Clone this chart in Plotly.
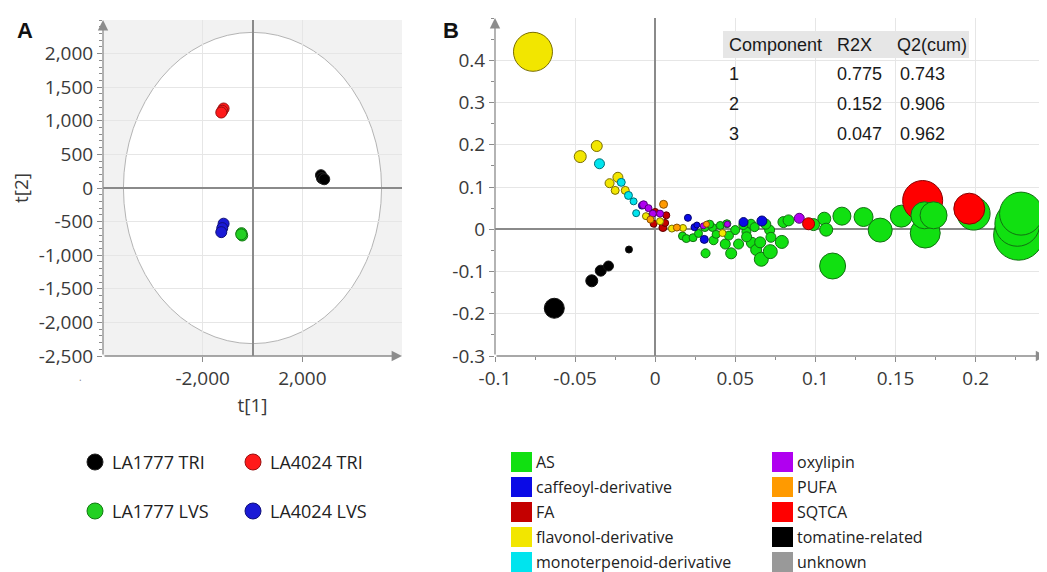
import plotly.graph_objects as go

# The page body has an 8px margin, so the figure is sized to fit the window and
# reference pixel positions are shifted by that offset.
OFF = 8
W, H = 1047 - OFF, 572 - OFF

# ---------------- Panel A: score plot t[1] vs t[2] ----------------
tri1777_t1 = [2747, 2787, 2880]
tri1777_t2 = [191, 146, 130]
tri4024_t1 = [-1160, -1210, -1253]
tri4024_t2 = [1183, 1150, 1123]
lvs1777_t1 = [-440, -413, -453]
lvs1777_t2 = [-672, -707, -690]
lvs4024_t1 = [-1160, -1213, -1253]
lvs4024_t2 = [-531, -597, -657]
a_groups = ["LA1777 TRI", "LA4024 TRI", "LA1777 LVS", "LA4024 LVS"]
a_fill = ["#000000", "#ff1a1a", "#22d022", "#1a1ad6"]
a_edge = ["#222222", "#9a1010", "#137a13", "#10107a"]
a_yticks = [2000, 1500, 1000, 500, 0, -500, -1000, -1500, -2000, -2500]
a_ytext = ["2,000", "1,500", "1,000", "500", "0", "-500", "-1,000", "-1,500", "-2,000", "-2,500"]
a_xticks = [-2000, 2000]
a_xtext = ["-2,000", "2,000"]
ellipse_t1 = 5180   # Hotelling T2 semi-axis
ellipse_t2 = 2316

# ---------------- Panel B: loadings p[1] vs p[2] by class ----------------
as_x = [0.1107, 0.1165, 0.130, 0.1404, 0.1536, 0.1685, 0.1987, 0.2268, 0.226, 0.2283,
        0.1055, 0.1067, 0.0988, 0.080, 0.0832,
        0.017, 0.0194, 0.0236, 0.027, 0.0314, 0.031, 0.0358, 0.0364, 0.0406, 0.0437,
        0.0447, 0.0474, 0.0499, 0.052, 0.0569, 0.0598, 0.0603, 0.063, 0.0662, 0.0655,
        0.0714, 0.0722, 0.0718, 0.079, 0.034, 0.038, 0.055, 0.062, 0.046, 0.069, 0.057]
as_y = [-0.087, 0.031, 0.029, -0.002, 0.031, -0.009, 0.037, -0.014, 0.013, 0.037,
        0.025, -0.001, 0.011, 0.017, 0.021,
        -0.016, -0.022, -0.020, -0.010, -0.057, 0.004, 0.004, -0.026, 0.009, -0.035,
        0.013, -0.057, -0.002, -0.035, -0.006, 0.013, -0.032, -0.049, -0.071, -0.031,
        -0.002, -0.019, -0.053, -0.030, 0.012, -0.012, 0.010, 0.005, -0.015, 0.012, -0.018]
as_s = [26, 18, 19, 24, 22, 30, 33, 50, 45, 43,
        13, 13, 12, 11, 11,
        8, 8, 8, 8, 9, 8, 8, 9, 8, 10,
        8, 11, 9, 10, 9, 9, 11, 11, 14, 11,
        10, 10, 14, 13, 8, 8, 9, 9, 9, 10, 10]
as_front_x = [0.168, 0.1737]
as_front_y = [0.033, 0.033]
as_front_s = [27, 27]

caf_x = [-0.0083, 0.0204, 0.0245, 0.0306, 0.0551, 0.0666, 0.026]
caf_y = [0.056, 0.027, 0.005, -0.024, 0.017, 0.0195, 0.010]
caf_s = [7, 7, 7, 8, 9, 10, 6]

fa_x = [0.0, 0.0069, -0.001, 0.0048, 0.0062, -0.004]
fa_y = [0.041, 0.033, 0.013, 0.004, 0.015, 0.030]
fa_s = [7, 7, 7, 8, 7, 6]

flav_x = [-0.0763, -0.0468, -0.0365, -0.0233, -0.0285, -0.025, -0.0187, -0.0058, 0.003, 0.0104, 0.0173, 0.042]
flav_y = [0.420, 0.172, 0.197, 0.123, 0.109, 0.092, 0.092, 0.031, 0.019, 0.0016, 0.003, -0.009]
flav_s = [39, 12, 11, 10, 9, 8, 8, 7, 7, 7, 7, 7]

mono_x = [-0.0348, -0.0212, -0.0167, -0.0135, -0.0119]
mono_y = [0.155, 0.111, 0.080, 0.066, 0.038]
mono_s = [10, 8, 8, 7, 7]

oxy_x = [-0.0073, -0.0042, -0.0015, 0.003, 0.0899, 0.030, 0.045]
oxy_y = [0.058, 0.050, 0.037, 0.037, 0.026, 0.008, 0.012]
oxy_s = [8, 7, 7, 7, 10, 6, 6]

pufa_x = [0.0052, -0.003, 0.0135, 0.032]
pufa_y = [0.059, 0.023, 0.004, 0.012]
pufa_s = [8, 7, 7, 6]

sqtca_x = [0.1669, 0.196, 0.0957]
sqtca_y = [0.068, 0.0487, 0.013]
sqtca_s = [40, 31, 12]

tom_x = [-0.063, -0.0396, -0.034, -0.0292, -0.0164]
tom_y = [-0.187, -0.122, -0.098, -0.087, -0.048]
tom_s = [20, 12, 11, 10, 7]

unk_x, unk_y, unk_s = [], [], []

b_classes = ["AS", "caffeoyl-derivative", "FA", "flavonol-derivative", "monoterpenoid-derivative",
             "oxylipin", "PUFA", "SQTCA", "tomatine-related", "unknown"]
b_fill = ["#11e011", "#0a0ae6", "#c40000", "#f2e600", "#00e4ee",
          "#b000f0", "#ff9a00", "#ff0000", "#000000", "#999999"]
b_edge = ["#127012", "#05056e", "#600000", "#7a6e00", "#007078",
          "#55007a", "#8a5000", "#8a0000", "#111111", "#555555"]
b_xticks = [-0.1, -0.05, 0, 0.05, 0.1, 0.15, 0.2]
b_xtext = ["-0.1", "-0.05", "0", "0.05", "0.1", "0.15", "0.2"]
b_yticks = [-0.3, -0.2, -0.1, 0, 0.1, 0.2, 0.3, 0.4]
b_ytext = ["-0.3", "-0.2", "-0.1", "0", "0.1", "0.2", "0.3", "0.4"]

tbl_header = ["Component", "R2X", "Q2(cum)"]
tbl_comp = ["1", "2", "3"]
tbl_r2x = ["0.775", "0.152", "0.047"]
tbl_q2 = ["0.743", "0.906", "0.962"]

FONT = "Open Sans"
TXT = "#3a3a3a"
AX = "#8c8c8c"


def px(x):
    return (x - OFF) / W


def py(y):
    return 1 - (y - OFF) / H


fig = go.Figure()

# Panel A traces
a_data = [(tri1777_t1, tri1777_t2), (tri4024_t1, tri4024_t2),
          (lvs1777_t1, lvs1777_t2), (lvs4024_t1, lvs4024_t2)]
for (xs, ys), name, f, e in zip(a_data, a_groups, a_fill, a_edge):
    fig.add_trace(go.Scatter(x=xs, y=ys, mode="markers", name=name, showlegend=False,
                             marker=dict(size=11, color=f, opacity=1, line=dict(color=e, width=1)),
                             xaxis="x", yaxis="y"))

# Panel B traces
b_data = {
    "AS": (as_x, as_y, as_s), "caffeoyl-derivative": (caf_x, caf_y, caf_s),
    "FA": (fa_x, fa_y, fa_s), "flavonol-derivative": (flav_x, flav_y, flav_s),
    "monoterpenoid-derivative": (mono_x, mono_y, mono_s), "oxylipin": (oxy_x, oxy_y, oxy_s),
    "PUFA": (pufa_x, pufa_y, pufa_s), "tomatine-related": (tom_x, tom_y, tom_s),
    "unknown": (unk_x, unk_y, unk_s), "SQTCA": (sqtca_x, sqtca_y, sqtca_s),
}
order = ["AS", "caffeoyl-derivative", "FA", "flavonol-derivative", "monoterpenoid-derivative",
         "oxylipin", "PUFA", "tomatine-related", "unknown", "SQTCA"]
for cls in order:
    xs, ys, ss = b_data[cls]
    i = b_classes.index(cls)
    fig.add_trace(go.Scatter(x=xs, y=ys, mode="markers", name=cls, showlegend=False,
                             marker=dict(size=ss, color=b_fill[i], opacity=1,
                                         line=dict(color=b_edge[i], width=1)),
                             xaxis="x2", yaxis="y2", cliponaxis=False))
fig.add_trace(go.Scatter(x=as_front_x, y=as_front_y, mode="markers", name="AS", showlegend=False,
                         marker=dict(size=as_front_s, color=b_fill[0], opacity=1,
                                     line=dict(color=b_edge[0], width=1)),
                         xaxis="x2", yaxis="y2"))

shapes = []
annotations = []

# Panel A background and ellipse
shapes.append(dict(type="rect", xref="x domain", yref="y domain", x0=0, x1=1, y0=0, y1=1,
                   fillcolor="#f2f2f2", line=dict(width=0), layer="below"))
shapes.append(dict(type="circle", xref="x", yref="y", x0=-ellipse_t1, x1=ellipse_t1,
                   y0=-ellipse_t2, y1=ellipse_t2, fillcolor="white",
                   line=dict(color="#b4b4b4", width=1), layer="below"))

# Axis lines with arrows
def arrow(xr, yr, x0, y0, x1, y1):
    annotations.append(dict(xref=xr, yref=yr, axref=xr, ayref=yr, x=x1, y=y1, ax=x0, ay=y0,
                            text="", showarrow=True, arrowhead=2, arrowsize=1.6, arrowwidth=1.3,
                            arrowcolor=AX, standoff=0, startstandoff=0))

arrow("x", "y", -6000, -2500, -6000, 2500)
arrow("x", "y", -6000, -2500, 6000, -2500)
arrow("x2", "y2", -0.1, -0.3, -0.1, 0.5)
arrow("x2", "y2", -0.1, -0.3, 0.244, -0.3)

# Panel letters
annotations.append(dict(xref="paper", yref="paper", x=px(15), y=py(31), text="<b>A</b>",
                        showarrow=False, xanchor="left", yanchor="middle",
                        font=dict(family="Liberation Sans", size=22, color="#111")))
annotations.append(dict(xref="paper", yref="paper", x=px(441), y=py(31), text="<b>B</b>",
                        showarrow=False, xanchor="left", yanchor="middle",
                        font=dict(family="Liberation Sans", size=22, color="#111")))
annotations.append(dict(xref="paper", yref="paper", x=px(77), y=py(377), text=".",
                        showarrow=False, font=dict(family=FONT, size=10, color="#888")))

# Table in panel B
shapes.append(dict(type="rect", xref="paper", yref="paper", x0=px(723), x1=px(969),
                   y0=py(58), y1=py(31), fillcolor="#e6e6e6", line=dict(width=0), layer="above"))
col_x = [727, 835, 895]
row_y = [45, 74, 104, 134]
tfont = dict(family="Liberation Sans", size=18, color="#1a1a1a")
for cx, t in zip(col_x, tbl_header):
    annotations.append(dict(xref="paper", yref="paper", x=px(cx), y=py(row_y[0]), text=t,
                            showarrow=False, xanchor="left", yanchor="middle", font=tfont))
for r in range(3):
    for cx, t in zip([727, 835, 898], [tbl_comp[r], tbl_r2x[r], tbl_q2[r]]):
        annotations.append(dict(xref="paper", yref="paper", x=px(cx), y=py(row_y[r + 1]), text=t,
                                showarrow=False, xanchor="left", yanchor="middle", font=tfont))

# Legend A (circles)
a_pos = [(95, 462), (253, 462), (95, 511), (253, 511)]
for (cx, cy), name, f, e in zip(a_pos, a_groups, a_fill, a_edge):
    r = 8
    shapes.append(dict(type="circle", xref="paper", yref="paper", x0=px(cx - r), x1=px(cx + r),
                       y0=py(cy + r), y1=py(cy - r), fillcolor=f, line=dict(color=e, width=1)))
    annotations.append(dict(xref="paper", yref="paper", x=px(cx + 15), y=py(cy), text=name,
                            showarrow=False, xanchor="left", yanchor="middle",
                            font=dict(family=FONT, size=18, color="#222")))

# Legend B (squares)
for i, (cls, f) in enumerate(zip(b_classes, b_fill)):
    col, row = divmod(i, 5)
    sx = 511 if col == 0 else 772
    cy = 462 + 25 * row
    shapes.append(dict(type="rect", xref="paper", yref="paper", x0=px(sx), x1=px(sx + 21),
                       y0=py(cy + 10), y1=py(cy - 10), fillcolor=f, line=dict(width=0)))
    annotations.append(dict(xref="paper", yref="paper", x=px(sx + 23), y=py(cy), text=cls,
                            showarrow=False, xanchor="left", yanchor="middle",
                            font=dict(family=FONT, size=16, color="#222")))

tickfont = dict(family=FONT, size=19, color=TXT)
common = dict(showline=False, ticks="outside", tickcolor=AX, ticklen=5, tickwidth=1,
              tickfont=tickfont, zeroline=True, zerolinecolor="#8a8a8a", zerolinewidth=1.5,
              gridcolor="#e6e6e6", gridwidth=1, automargin=False)

fig.update_layout(
    width=W, height=H, margin=dict(l=0, r=0, t=0, b=0, autoexpand=False),
    paper_bgcolor="white", plot_bgcolor="white",
    shapes=shapes, annotations=annotations, showlegend=False,
    xaxis=dict(domain=[px(103), px(402)], range=[-6000, 6000], tickmode="array",
               tickvals=a_xticks, ticktext=a_xtext, anchor="y",
               title=dict(text="t[1]", font=dict(family=FONT, size=19, color=TXT), standoff=8),
               **common),
    yaxis=dict(domain=[py(356), py(20)], range=[-2500, 2500], tickmode="array",
               tickvals=a_yticks, ticktext=a_ytext, anchor="x",
               minor=dict(dtick=100, tick0=0, ticklen=3, tickcolor=AX, ticks="outside", showgrid=False),
               title=dict(text="t[2]", font=dict(family=FONT, size=19, color=TXT), standoff=6),
               **common),
    xaxis2=dict(domain=[px(495), px(1043)], range=[-0.1, 0.242], tickmode="array",
                tickvals=b_xticks, ticktext=b_xtext, anchor="y2",
                minor=dict(dtick=0.025, tick0=0, ticklen=3, tickcolor=AX, ticks="outside", showgrid=False),
                **common),
    yaxis2=dict(domain=[py(356), py(18)], range=[-0.3, 0.5], tickmode="array",
                tickvals=b_yticks, ticktext=b_ytext, anchor="x2",
                minor=dict(dtick=0.05, tick0=0, ticklen=3, tickcolor=AX, ticks="outside", showgrid=False),
                **common),
)

fig.write_html("out.html")
